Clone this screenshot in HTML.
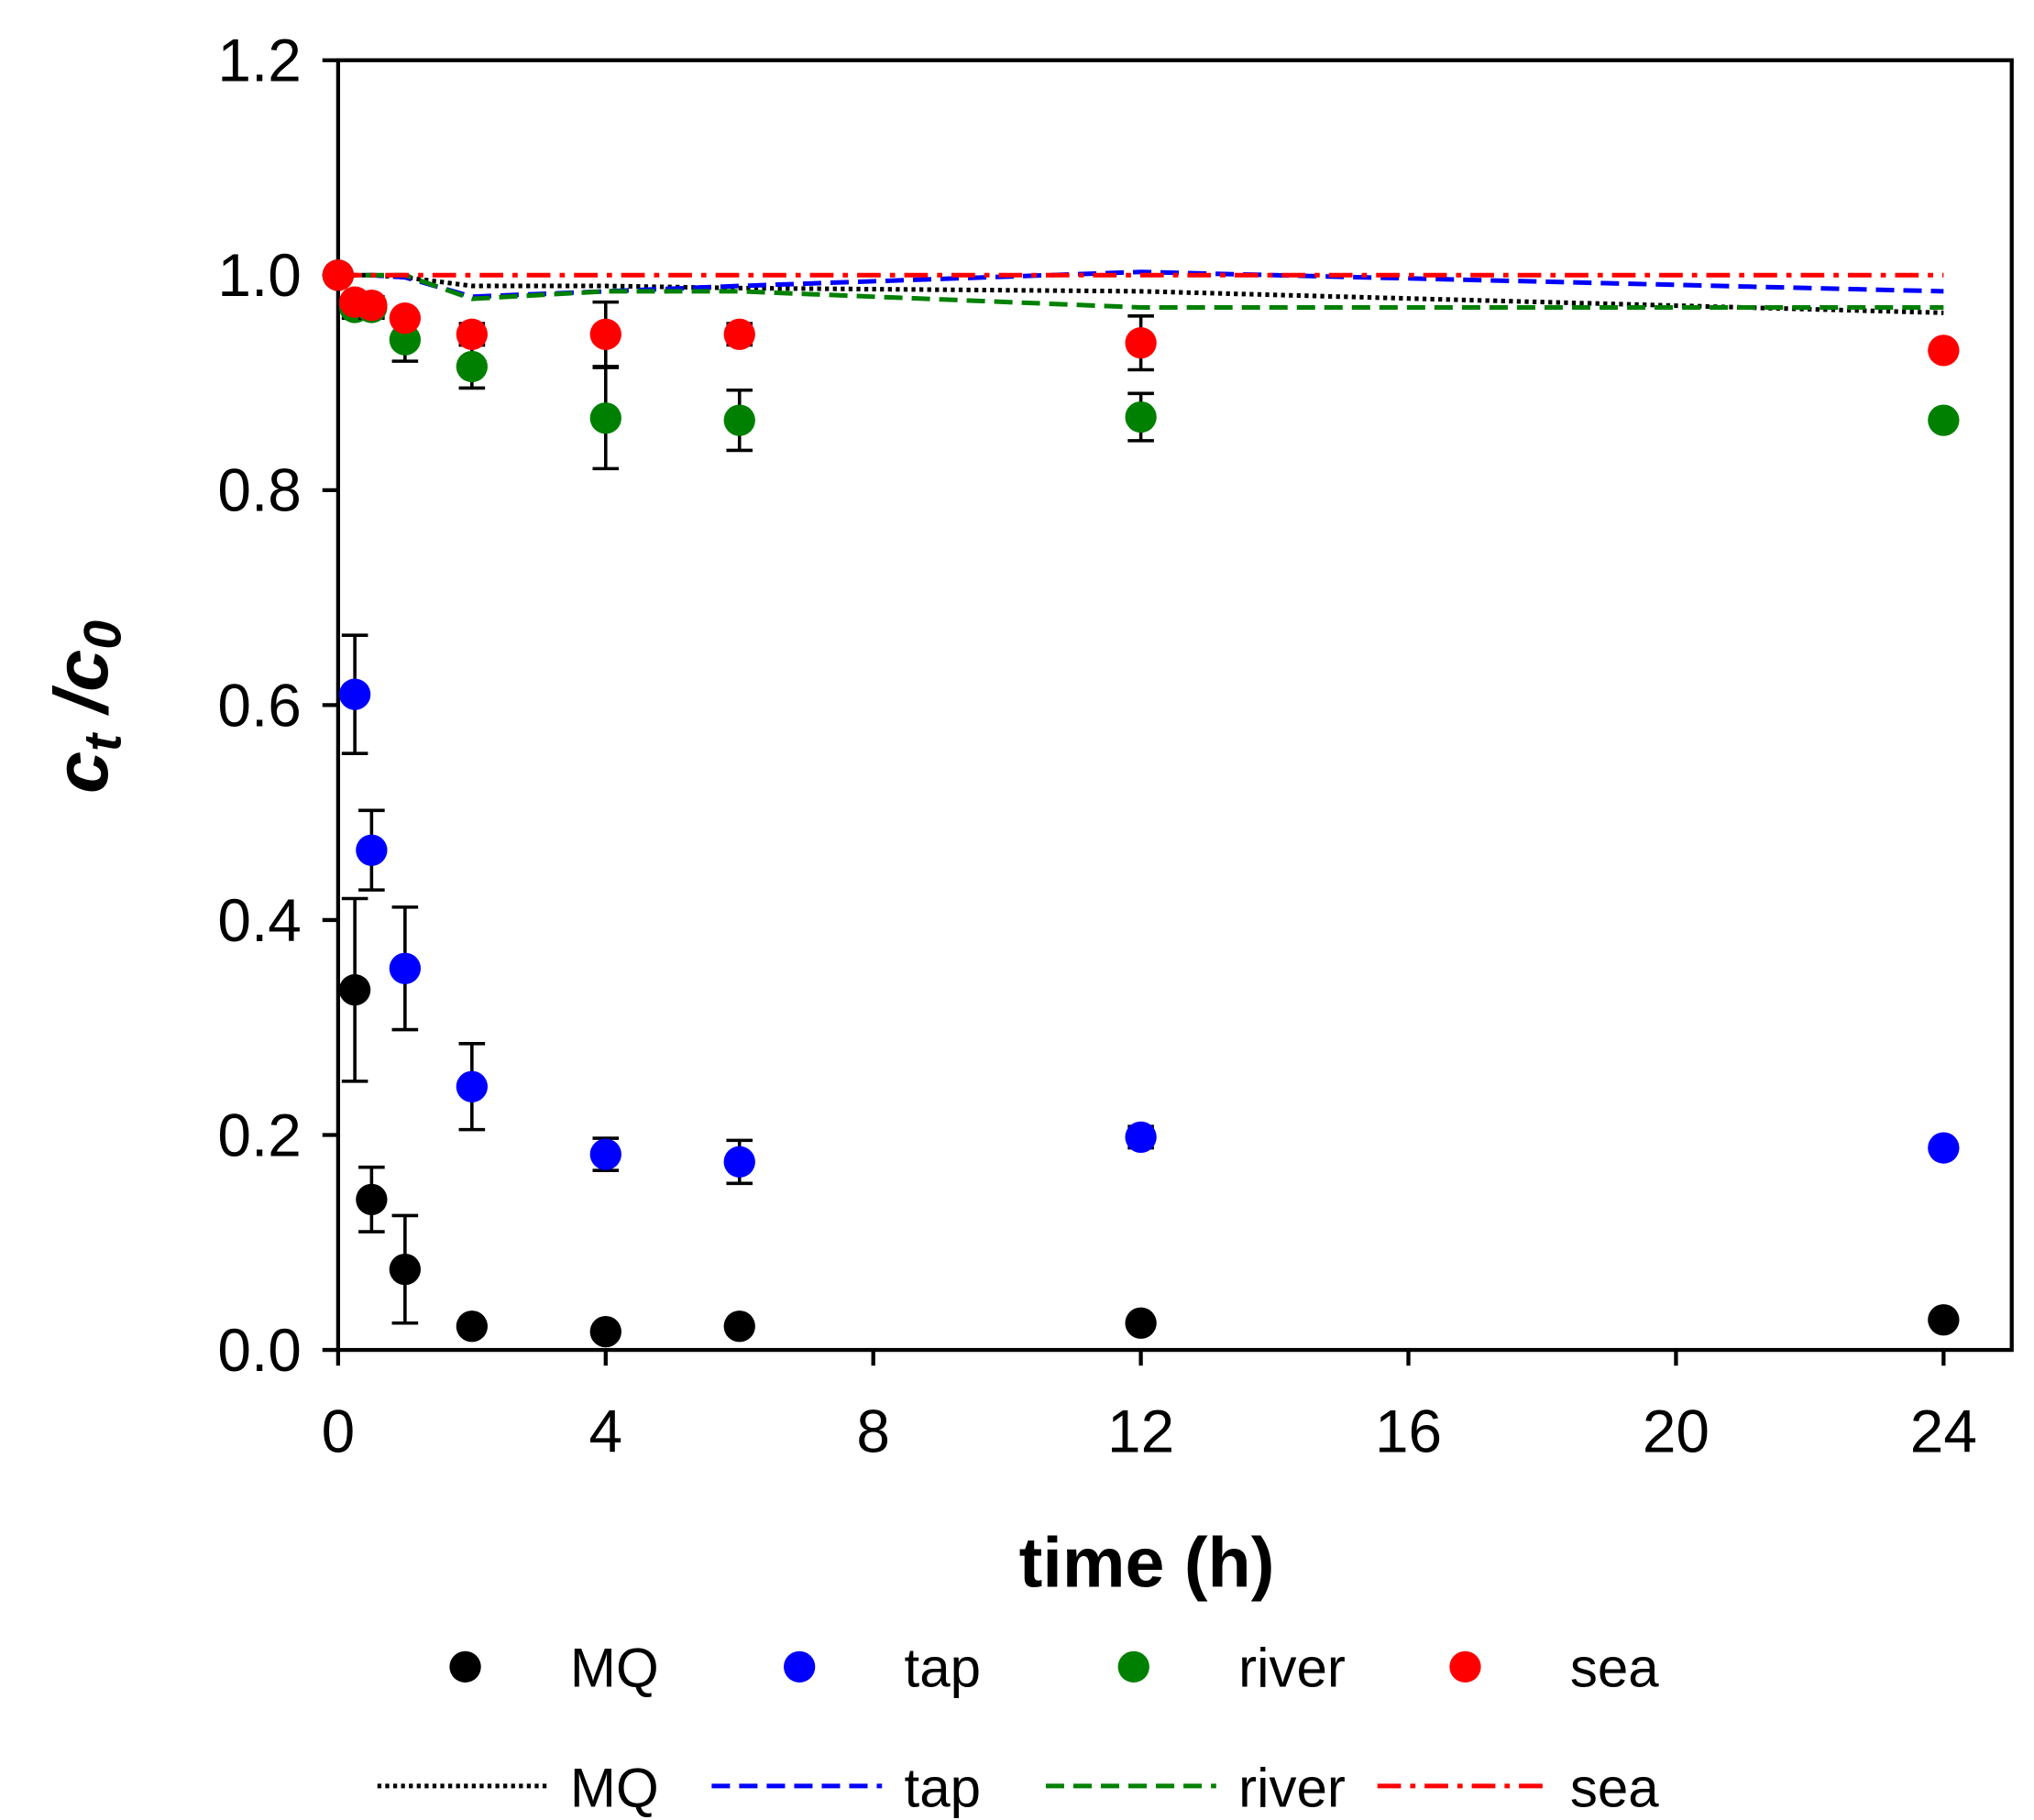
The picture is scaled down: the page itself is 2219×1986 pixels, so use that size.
<!DOCTYPE html>
<html><head><meta charset="utf-8"><style>
html,body{margin:0;padding:0;background:#fff}
svg{display:block}
text{font-family:"Liberation Sans",sans-serif}
</style></head><body>
<svg id="chart" width="2219" height="1986" viewBox="0 0 1552 1390" preserveAspectRatio="none" xmlns="http://www.w3.org/2000/svg">
<g id="axes"></g><g id="lines"></g><g id="points"></g><g id="legend"></g>
</svg>
<script>
const times=[0,0.25,0.5,1,2,4,6,12,24];
const mqVals=[1.0,0.335,0.14,0.075,0.022,0.017,0.022,0.025,0.028];
const mqErr=[0,0.085,0.03,0.05,0.004,0.004,0.004,0.004,0.004];
const tapVals=[1.0,0.61,0.465,0.355,0.245,0.182,0.175,0.198,0.188];
const tapErr=[0,0.055,0.037,0.057,0.04,0.015,0.02,0.01,0.005];
const riverVals=[1.0,0.97,0.97,0.94,0.915,0.867,0.865,0.868,0.865];
const riverErr=[0,0.01,0.01,0.02,0.02,0.047,0.028,0.022,0.004];
const seaVals=[1.0,0.975,0.972,0.96,0.945,0.945,0.945,0.937,0.93];
const seaErr=[0,0.005,0.005,0.005,0.01,0.03,0.01,0.025,0.004];
const mqLine=[1.0,1.0,1.0,0.998,0.99,0.99,0.988,0.985,0.965];
const tapLine=[1.0,1.0,1.0,0.998,0.98,0.985,0.99,1.003,0.985];
const riverLine=[1.0,1.0,1.0,1.0,0.978,0.985,0.985,0.97,0.97];
const seaLine=[1.0,1.0,1.0,1.0,1.0,1.0,1.0,1.0,1.0];
const xTicks=[0,4,8,12,16,20,24];
const yTicks=[0.0,0.2,0.4,0.6,0.8,1.0,1.2];
const NS="http://www.w3.org/2000/svg";
const L=258,R=1535,T=46,B=1031;
const xs=t=>L+t*(1483-L)/24;
const ys=v=>B-v*(B-T)/1.2;
function mk(tag,attrs,parent){const e=document.createElementNS(NS,tag);for(const k in attrs)e.setAttribute(k,attrs[k]);parent.appendChild(e);return e;}
const ax=document.getElementById('axes');
const frame=mk('rect',{x:L,y:T,width:R-L,height:B-T,fill:'none',stroke:'#000','stroke-width':3},ax);


xTicks.forEach(t=>{
 const l=mk('line',{x1:xs(t),x2:xs(t),y1:B,y2:B+12,stroke:'#000','stroke-width':3},ax);
 
 
 const tx=mk('text',{x:xs(t),y:B+78,'font-size':46,'text-anchor':'middle'},ax);tx.textContent=t;
 
 
});
yTicks.forEach(v=>{
 const l=mk('line',{x1:L-12,x2:L,y1:ys(v),y2:ys(v),stroke:'#000','stroke-width':3},ax);
 
 
 const tx=mk('text',{x:L-28,y:ys(v)+16,'font-size':46,'text-anchor':'end'},ax);tx.textContent=v.toFixed(1);
 
 
});
const xt=mk('text',{x:875,y:1212,'font-size':54,'font-weight':'bold','text-anchor':'middle'},ax);xt.textContent='time (h)';


const yt=mk('text',{transform:'translate(82,540) rotate(-90)','font-size':58,'font-weight':'bold','font-style':'italic','text-anchor':'middle'},ax);
yt.innerHTML='c<tspan font-size="40" dy="10">t</tspan><tspan dy="-10"> /c</tspan><tspan font-size="40" dy="10">0</tspan>';


const lg=document.getElementById('lines');
const lineSpecs=[[mqLine,'#000','3,3','mq-line'],[tapLine,'#0000ff','14,7','tap-line'],[riverLine,'#008000','14,7','river-line'],[seaLine,'#ff0000','18,7,4,7','sea-line']];
lineSpecs.forEach(([vals,c,d,n])=>{
 const p=mk('polyline',{points:times.map((t,i)=>xs(t)+','+ys(vals[i])).join(' '),fill:'none',stroke:c,'stroke-width':3.5,'stroke-dasharray':d},lg);
 
 
});
const pg=document.getElementById('points');
const ptSpecs=[[mqVals,mqErr,'#000','mq'],[tapVals,tapErr,'#0000ff','tap'],[riverVals,riverErr,'#008000','river'],[seaVals,seaErr,'#ff0000','sea']];
ptSpecs.forEach(([vals,errs,c,n])=>{
 times.forEach((t,i)=>{
  const x=xs(t);
  if(errs[i]>0.005){
   const e=mk('path',{d:`M${x},${ys(vals[i]-errs[i])}V${ys(vals[i]+errs[i])}M${x-10},${ys(vals[i]-errs[i])}h20M${x-10},${ys(vals[i]+errs[i])}h20`,stroke:'#000','stroke-width':2.5,fill:'none'},pg);
   
   
  }
  const cc=mk('circle',{cx:x,cy:ys(vals[i]),r:12,fill:c},pg);
  
  
 });
});
const lgd=document.getElementById('legend');
const names=['MQ','tap','river','sea'];const cols=['#000','#0000ff','#008000','#ff0000'];
const legX=[355,610,865,1118];
names.forEach((nm,i)=>{
 const c=mk('circle',{cx:legX[i],cy:1273,r:12,fill:cols[i]},lgd);
 
 
 const t=mk('text',{x:legX[i]+80,y:1288,'font-size':42},lgd);t.textContent=nm;
 
 
 const l=mk('line',{x1:legX[i]-67,x2:legX[i]+63,y1:1364,y2:1364,stroke:cols[i],'stroke-width':3.5,'stroke-dasharray':lineSpecs[i][2]},lgd);
 
 
 const t2=mk('text',{x:legX[i]+80,y:1380,'font-size':42},lgd);t2.textContent=nm;
 
 
});
</script>
</body></html>
